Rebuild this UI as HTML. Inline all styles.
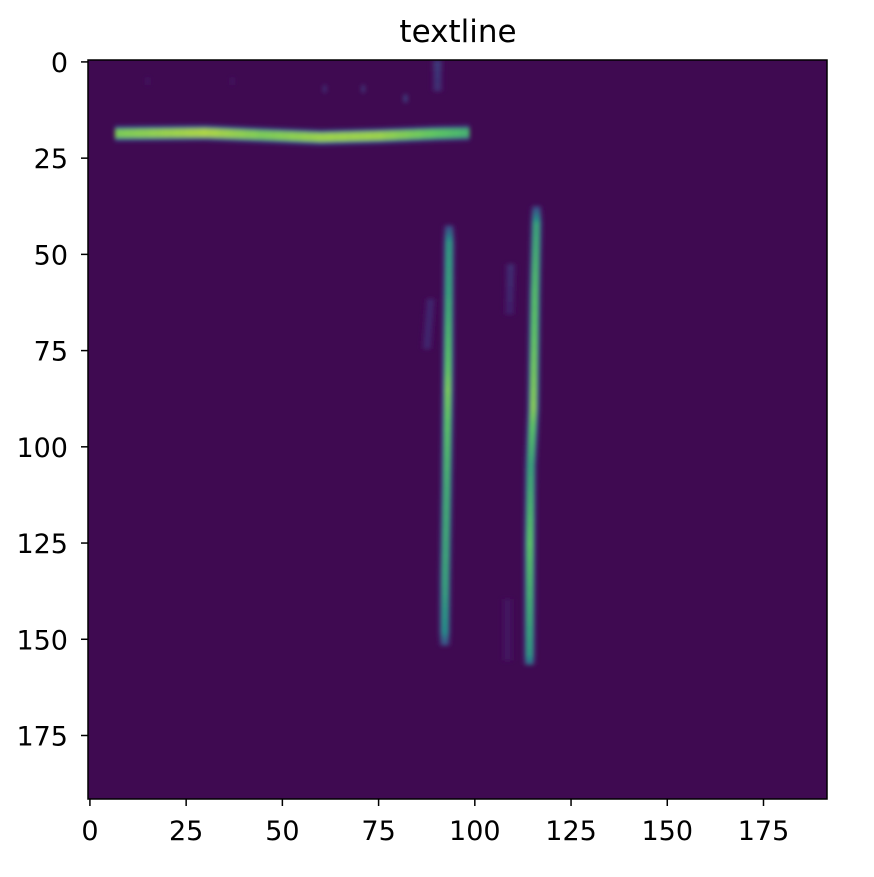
<!DOCTYPE html>
<html><head><meta charset="utf-8"><style>
body{margin:0;background:#fff;font-family:"Liberation Sans","DejaVu Sans",sans-serif}
svg text{font-family:"DejaVu Sans","Liberation Sans",sans-serif;font-size:27px;fill:#000}
</style></head><body>
<svg id="chart" width="874" height="872" viewBox="0 0 874 872">
<text x="458" y="42" text-anchor="middle" style="font-size:31px">textline</text>
<defs><clipPath id="clip"><rect x="88" y="60" width="739" height="739"/></clipPath>
<filter id="blur" x="-5%" y="-5%" width="110%" height="110%"><feGaussianBlur stdDeviation="2"/></filter></defs>
<rect x="88" y="60" width="739" height="739" fill="#3f0a51"/>
<g id="marks" clip-path="url(#clip)" filter="url(#blur)"></g>
<rect x="88" y="60" width="739" height="739" fill="none" stroke="#000" stroke-width="1.5"/>
<g id="axes"></g>
</svg>
<script>
// Image grid size
const gridSize = 192;
// Tick labels
const xTicks = [0,25,50,75,100,125,150,175];
const yTicks = [0,25,50,75,100,125,150,175];
// Strokes: [col, row, intensity] sample points
const strokeTop = [[7,18.6,0.8],[30,18.4,0.88],[45,19,0.8],[60,19.6,0.85],[75,19.2,0.85],[90,18.6,0.75],[99,18.4,0.65]];
const strokeV1 = [[93.3,43,0.25],[93.3,47,0.55],[93.2,60,0.6],[93,85,0.8],[92.7,110,0.65],[92.3,135,0.6],[92.2,148,0.5],[92.2,152,0.2]];
const strokeV2 = [[116,38,0.25],[116,42,0.6],[115.6,60,0.72],[115.2,90,0.82],[114.5,105,0.6],[114.3,125,0.75],[114.2,154,0.55],[114.2,157,0.3]];
const faint1 = [[88.5,62,0.12],[87.5,75,0.12]];
const faint2 = [[109.3,53,0.14],[109,66,0.1]];
const faint3 = [[108.5,140,0.06],[108.5,156,0.06]];
const faint4 = [[90.3,0,0.18],[90.3,8,0.14]];
const specks = [[82,9.5,0.2],[71,7,0.15],[61,7,0.13],[37,5,0.06],[15,5,0.06]];
const strokes = [[strokeTop,'h'],[strokeV1,'v'],[strokeV2,'v'],[faint1,'v'],[faint2,'v'],[faint3,'v'],[faint4,'v']];

const L=88,T=60,S=739/gridSize;
const sx=c=>L+(c+0.5)*S, sy=r=>T+(r+0.5)*S;
const stops=[[0,[68,1,84]],[0.25,[59,82,139]],[0.5,[33,145,140]],[0.75,[94,201,98]],[1,[253,231,37]]];
function viridis(v){v=Math.max(0,Math.min(1,v));for(let i=1;i<stops.length;i++){if(v<=stops[i][0]){const a=stops[i-1],b=stops[i],t=(v-a[0])/(b[0]-a[0]);return 'rgb('+a[1].map((x,k)=>Math.round(x+(b[1][k]-x)*t)).join(',')+')';}}return 'rgb(253,231,37)';}
const NS='http://www.w3.org/2000/svg';
const marks=document.getElementById('marks');
function cell(x,y,w,h,v){const r=document.createElementNS(NS,'rect');r.setAttribute('x',x);r.setAttribute('y',y);r.setAttribute('width',w);r.setAttribute('height',h);r.setAttribute('fill',viridis(v));


marks.appendChild(r);}
strokes.forEach(([pts,dir])=>{
  for(let i=0;i<pts.length-1;i++){
    const a=pts[i],b=pts[i+1];
    const n=dir==='h'?Math.max(1,Math.round(b[0]-a[0])):Math.max(1,Math.round(b[1]-a[1]));
    for(let k=0;k<n;k++){const t=k/n;const c=a[0]+(b[0]-a[0])*t,r=a[1]+(b[1]-a[1])*t,v=a[2]+(b[2]-a[2])*t;
      if(dir==='h'){cell(sx(c)-S/2,sy(r)-2*S,S+0.5,4*S,v*0.3);cell(sx(c)-S/2,sy(r)-1.1*S,S+0.5,2.2*S,v);}
      else{cell(sx(c)-1.6*S,sy(r)-S/2,3.2*S,S+0.5,v*0.3);cell(sx(c)-0.75*S,sy(r)-S/2,1.5*S,S+0.5,v);}
    }
  }
});
specks.forEach(p=>cell(sx(p[0])-S/2,sy(p[1])-S,S,2*S,p[2]));
const axes=document.getElementById('axes');
xTicks.forEach(t=>{const x=sx(t);
  const l=document.createElementNS(NS,'line');l.setAttribute('x1',x);l.setAttribute('x2',x);l.setAttribute('y1',799);l.setAttribute('y2',806);l.setAttribute('stroke','#000');l.setAttribute('stroke-width','1.5');
  
  
  axes.appendChild(l);
  const tx=document.createElementNS(NS,'text');tx.setAttribute('x',x);tx.setAttribute('y',840);tx.setAttribute('text-anchor','middle');tx.textContent=t;
  
  
  axes.appendChild(tx);});
yTicks.forEach(t=>{const y=sy(t);
  const l=document.createElementNS(NS,'line');l.setAttribute('x1',81);l.setAttribute('x2',88);l.setAttribute('y1',y);l.setAttribute('y2',y);l.setAttribute('stroke','#000');l.setAttribute('stroke-width','1.5');
  
  
  axes.appendChild(l);
  const tx=document.createElementNS(NS,'text');tx.setAttribute('x',68);tx.setAttribute('y',y+10);tx.setAttribute('text-anchor','end');tx.textContent=t;
  
  
  axes.appendChild(tx);});
</script>
</body></html>
